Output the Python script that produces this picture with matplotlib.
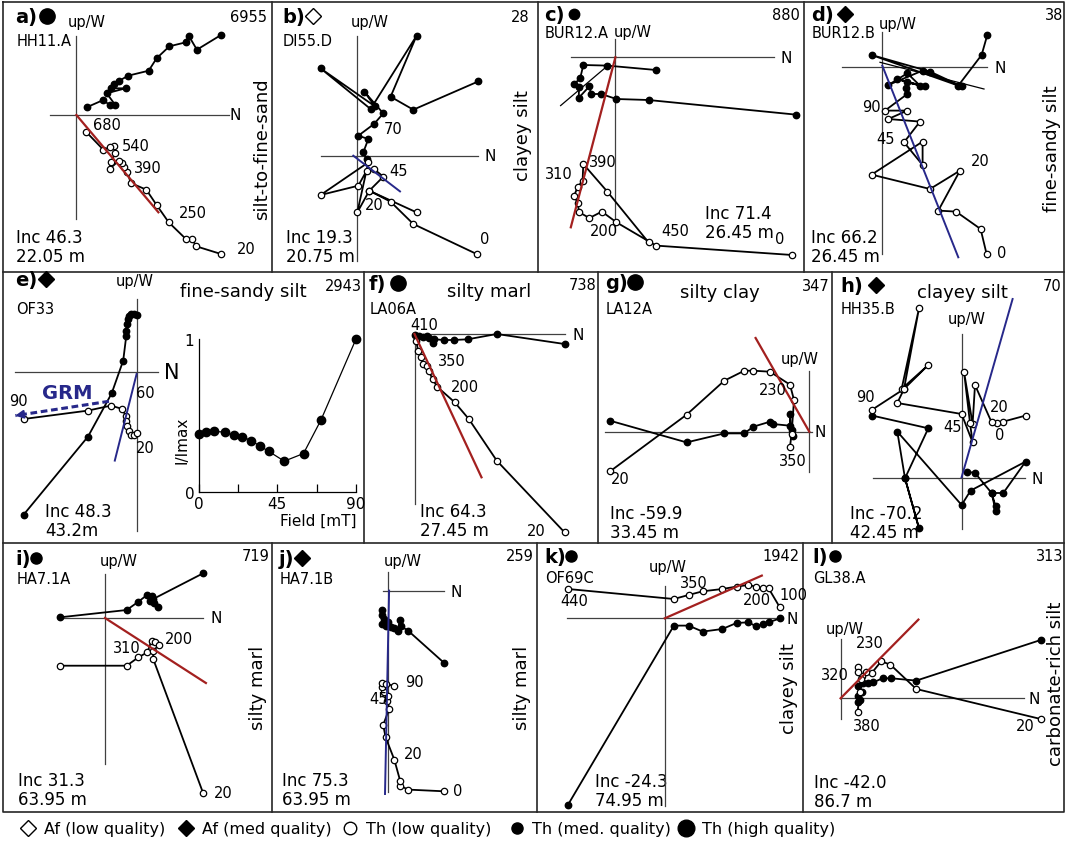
import numpy as np
import matplotlib.pyplot as plt

W, H = 1067, 845
RED = '#a3201f'
NAVY = '#27288a'

# =====================================================
# DATA  (N component, up/W component; filled = horizontal, open = vertical)
# =====================================================

# a) HH11.A
a_h_n = [144.6, 120.5, 112.3, 109.5, 93.0, 80.2, 72.3, 51.7, 43.0, 37.2, 34.4, 49.2, 30.3, 38.9, 33.1, 26.9, 10.3]
a_h_w = [80.0, 65.3, 79.3, 72.7, 68.7, 56.7, 44.3, 39.3, 34.3, 31.0, 26.7, 26.7, 21.7, 10.0, 10.0, 15.0, 7.7]
a_v_n = [144.6, 119.8, 115.7, 109.5, 92.3, 80.2, 69.9, 54.4, 51.0, 47.5, 45.8, 42.4, 33.1, 34.4, 38.9, 37.2, 33.1, 26.9, 9.6]
a_v_u = [-139.0, -131.3, -124.0, -124.0, -107.3, -90.0, -74.7, -68.0, -57.3, -52.3, -48.0, -45.7, -54.0, -47.3, -38.0, -30.7, -32.3, -34.7, -16.7]
a_fit = [[0, 82.0], [0, -97.3]]

# b) DI55.D
b_h_n = [121, 56, 33.3, 59.3, 13.3, -36.7, 17.7, 7, 26, 16.7, 1, 11, 6, 9.3]
b_h_w = [74.3, 46, 59, 120, 46.7, 87.3, 49.3, 64, 42.3, 31.7, 20, 16.7, 3.3, -3.3]
b_v_n = [119.3, 56, 33.3, 12, 0, 11, -36.7, 1, 9.3, 16.7, 26, 12, 59.3]
b_v_u = [-98.3, -68.3, -46, -35, -56.7, -6.7, -39.3, -30, -15, -13.3, -21, -35, -56.7]
b_fit = [[-4, 42.7], [0, -35.7]]

# c) BUR12.A
c_h_n = [40.6, -8.1, -32.1, -35.2, -41.2, -36.2, -36.8, -26, -24.3, -14.2, 1, 33.1, 180.2]
c_h_w = [-12.7, -8.3, -7.7, -21, -26.7, -30, -40.7, -29, -36.7, -36.7, -41.7, -42.7, -57.3]
c_v_n = [176.8, 40.6, 1, -13.5, -26, -36.2, -37.9, -41.2, -37.9, -32.8, -32.1, -8.1, 33.1]
c_v_u = [-197.7, -188.3, -165, -154.3, -160.7, -155, -145.7, -138.3, -130, -123.3, -106.7, -134.3, -185]
c_fit = [[0, -44.6], [0, -170]]
c_fit2 = [[-54.8, -5.7], [-48.3, -6.7]]

# d) BUR12.B
d_h_n = [105, 99.3, 76, -10.7, 47.7, 79.3, 40.3, 6, 25, 37.7, 14.3, 42.7, 24.3, 23.7, 25]
d_h_w = [32.3, 12.3, -18.3, 12.3, -4.3, -19, -3.3, -17.7, -6, -18.3, -11.7, -19, -15, -21, -26.7]
d_v_n = [104.3, 98.3, 73.7, 56, 77.7, 47.7, -10.7, 40.3, 40.3, 21.7, 37.7, 6, 25, 2.7]
d_v_u = [-186.7, -161.7, -144.3, -143.3, -103.3, -121.7, -107.3, -74.3, -97.7, -75, -54.3, -51.7, -43.3, -43.3]
d_fit = [[0, 76], [1.7, -190]]
d_fit2 = [[-2.3, 101.7], [5, -21.7]]

# e) OF33
e_h_n = [0.4, -2.7, -5.7, -7.7, -8.4, -9.6, -10.3, -10.3, -13.4, -24.9, -48.6, -112.9]
e_h_w = [57.7, 58.3, 58.3, 56.7, 53.3, 48.3, 41.7, 36.7, 11.7, -21, -64.3, -142.3]
e_v_n = [-112.9, -48.6, -25.6, -14.2, -11.1, -10.3, -9.6, -7.3, -5.4, -2.7, 0]
e_v_u = [-46.7, -38.3, -33.3, -36.7, -43.3, -48.3, -53.3, -58.3, -62.3, -62.7, -61]
e_fit = [[-21.8, 0], [-88.3, -1.7]]
e_grm = [[-27.6, -121.2], [-29, -43.3]]
e_field = [0, 4, 9, 15, 20, 25, 30, 35, 40, 49, 60, 70, 90]
e_int = [0.38, 0.39, 0.395, 0.39, 0.37, 0.36, 0.335, 0.3, 0.265, 0.2, 0.25, 0.47, 1.0]

# f) LA06A
f_h_n = [0.8, 4.6, 8.4, 12.2, 14.9, 18, 19.9, 29.5, 39, 53.2, 82.3, 150]
f_h_w = [-0.7, -1.7, -2.7, -2, -4, -9.3, -5.3, -6, -6, -5.3, 0, -10]
f_v_n = [1.9, 3.4, 6.5, 8.4, 12.2, 14.2, 18, 22.6, 40.2, 54.3, 82.3, 150]
f_v_u = [-6.7, -16.7, -23.3, -30, -31.7, -36.7, -45, -52.7, -68.3, -85, -126.7, -198.3]
f_fit = [[0, 67], [0, -143.3]]

# g) LA12A
g_h_n = [-199.3, -122.7, -85, -65, -56, -39.3, -36.7, -19.3, -19.3, -17.7, -16]
g_h_w = [11, -10.7, -1.7, -1.7, 5, 10, 7.7, 6, 17.7, 1.7, -4]
g_v_n = [-199.3, -122.7, -85, -65, -56, -39.3, -19.3, -15.3, -17.7, -19.3]
g_v_u = [-39.7, 17, 51, 61, 61, 60, 47, 31.7, -2, -15]
g_fit = [[-53.7, 0], [93.7, 0]]

# h) HH35.B
h_h_n = [-90, -34, -57.3, -43.3, -57.3, -65, -0.7, 8.3, 63.3, 41, 29.3, 33.3, 33.3, 29.3, 12.7, 4.3]
h_h_w = [62.7, 50, 0, -50, 0, 46.7, -26.7, -12.3, 16.7, -14.7, -14.7, -28, -32.3, -14.7, 5.3, 6.7]
h_v_n = [63.3, 41, 34.3, 29.3, 12.7, 10.3, 1.7, 7.7, 10.3, -0.7, -65, -58.3, -43.3, -60.7, -34, -58.3, -90]
h_v_u = [62.7, 56.7, 55, 56, 93.3, 54.3, 106.7, 55.3, 36, 64.3, 75.3, 89.3, 170, 89.3, 113.3, 89.3, 68.7]
h_fit = [[-0.7, 50.3], [1, 179.3]]

# i) HA7.1A
i_h_n = [-44.8, 21.7, 33.4, 42.4, 46.5, 44.8, 49.2, 53.4, 48.2, 98.1]
i_h_w = [0.7, 8, 16.3, 23.3, 21.7, 17.3, 15, 10.7, 19, 44.7]
i_v_n = [-44.8, 21.7, 33.4, 42.4, 46.5, 49.5, 54.1, 48.2, 48.2, 98.1]
i_v_u = [-47.7, -47.7, -39.3, -34.3, -22.7, -24.3, -27, -32.7, -41, -175]
i_fit = [[0, 100.9], [0, -65]]

# j) HA7.1B
j_h_n = [-6.2, -6.9, -4.5, -6.2, -2.8, 0, 2.4, 5.9, 9.3, 11.7, 12.7, 19.6, 55.8]
j_h_w = [-18.7, -23.7, -27.7, -32.7, -35, -31, -36, -37, -39.3, -28.7, -35, -39.3, -71.7]
j_v_n = [55.8, 19.6, 11.7, 11.7, 5.9, -2.8, -5.2, 0.7, -1, 0, -4.5, -6.2, -6.2, -2, 5.9]
j_v_u = [-200, -198.3, -194.3, -189.3, -168.3, -146, -133.7, -117.7, -109.3, -104.3, -101, -96, -91.7, -93, -94.3]
j_fit = [[0.7, -3.4], [0.7, -202.7]]

# k) OF69C
k_h_n = [-96.7, 9.1, 23.7, 37.9, 57.5, 71.7, 83.5, 91.3, 98, 103.8, 115.6]
k_h_w = [-186.3, -7.3, -7.3, -13.3, -10.7, -4.7, -4, -8, -5.7, -4, 0]
k_v_n = [-96.7, 9.1, 23.7, 37.9, 57.5, 71.7, 83.5, 91.3, 98, 103.8, 115]
k_v_u = [29.3, 19.3, 23.3, 27, 29.3, 31.7, 33.3, 31.7, 30, 30, 11]
k_fit = [[0, 97], [0, 42.7]]

# l) GL38.A
l_h_n = [200.1, 75.7, 50.7, 41.9, 32.8, 27.7, 22.6, 16.9, 21.6, 17.6, 19.3, 17.6]
l_h_w = [58.3, 17.7, 20, 20, 16, 15.3, 15.3, 12.7, 6.7, 2.7, -1.3, -4]
l_v_n = [200.1, 75.7, 49.7, 40.6, 31.1, 25, 20.9, 16.9, 17.6, 20.3, 19.3, 16.9]
l_v_u = [-20.7, 9.3, 33.7, 37, 25.3, 26.7, 22.7, 31, 26.7, 19.3, 6, -14]
l_fit = [[0, 77.8], [0, 78.7]]

# =====================================================
# FIGURE
# =====================================================

fig = plt.figure(figsize=(W / 100, H / 100), dpi=100)
base = fig.add_axes([0, 0, 1, 1], label='base')
base.set_xlim(0, W)
base.set_ylim(H, 0)
base.axis('off')

# panel frames
frame = dict(color='0.15', lw=1.2)
base.plot([3, 1064, 1064, 3, 3], [3, 3, 813, 813, 3], **frame)
for yy in [273, 544]:
    base.plot([3, 1064], [yy, yy], **frame)
for xx in [272, 538, 804]:
    base.plot([xx, xx], [3, 273], **frame)
for xx in [364, 598, 831.5]:
    base.plot([xx, xx], [273, 544], **frame)
for xx in [272, 537, 803]:
    base.plot([xx, xx], [544, 813], **frame)


def panel(name, ox, oy):
    ax = fig.add_axes([0, 0, 1, 1], label=name)
    ax.set_xlim(-ox, W - ox)
    ax.set_ylim(oy - H, oy)
    ax.axis('off')
    ax.patch.set_alpha(0)
    return ax


def cross(ax, hx, vy, nx, nsize=11):
    ax.plot(hx, [0, 0], color='0.25', lw=0.9, zorder=1)
    ax.plot([0, 0], vy, color='0.25', lw=0.9, zorder=1)
    ax.text(nx, 0, 'N', ha='center', va='center', fontsize=nsize)


def zij(ax, hn, hw, vn, vu, link=False):
    if link:
        ax.plot([hn[0], vn[-1]], [hw[0], vu[-1]], color='k', lw=1.3, zorder=2)
    ax.plot(hn, hw, color='k', lw=1.3, marker='o', ms=4.6,
            mfc='k', mec='k', zorder=3)
    ax.plot(vn, vu, color='k', lw=1.3, marker='o', ms=4.6,
            mfc='white', mec='k', mew=0.9, zorder=4)


def fit(ax, line, color, lw=1.6):
    ax.plot(line[0], line[1], color=color, lw=lw, zorder=5)


def steps(ax, labels):
    for x, y, s in labels:
        ax.text(x, y, s, ha='center', va='center', fontsize=10.5, zorder=6)


# --- a
ax = panel('a', 76.4, 116)
cross(ax, [-26.5, 152.6], [-104, 79.3], 158.6)
fit(ax, a_fit, RED)
zij(ax, a_h_n, a_h_w, a_v_n, a_v_u)
steps(ax, [(30.3, -9, '680'), (59.6, -30.7, '540'), (71.6, -52.3, '390'),
           (116.4, -97.3, '250'), (169.8, -134, '20')])

# --- b
ax = panel('b', 357.3, 156.7)
cross(ax, [-36.6, 121], [-105.3, 120], 132.7)
zij(ax, b_h_n, b_h_w, b_v_n, b_v_u)
fit(ax, b_fit, NAVY, 1.4)
steps(ax, [(36, 27.3, '70'), (41, -15, '45'), (16.7, -49, '20'), (127, -82.7, '0')])

# --- c
ax = panel('c', 615.4, 58.3)
cross(ax, [-44.6, 158.2], [-174.7, 18.3], 171.1)
ax.plot(c_fit2[0], c_fit2[1], color='k', lw=0.9, zorder=2)
zij(ax, c_h_n, c_h_w, c_v_n, c_v_u)
fit(ax, c_fit, RED)
steps(ax, [(-12.5, -104, '390'), (-56.5, -116.7, '310'), (-11.8, -173.3, '200'),
           (60.2, -173.3, '450'), (164.3, -181, '0')])

# --- d
ax = panel('d', 882.3, 68.3)
cross(ax, [-40.6, 104.4], [-186.7, 35.3], 117.7)
ax.plot(d_fit2[0], d_fit2[1], color='k', lw=0.9, zorder=2)
ax.plot([d_h_n[-1], d_v_n[-1]], [d_h_w[-1], d_v_u[-1]], color='k', lw=1.3, zorder=2)
zij(ax, d_h_n, d_h_w, d_v_n, d_v_u)
fit(ax, d_fit, NAVY, 1.4)
steps(ax, [(-10.7, -39, '90'), (3.7, -71.7, '45'), (98.3, -93.3, '20'), (119.3, -185, '0')])

# --- e
ax = panel('e', 136.6, 373.3)
cross(ax, [-121.3, 21.1], [-158.4, 73.3], 35.4, nsize=15)
zij(ax, e_h_n, e_h_w, e_v_n, e_v_u)
fit(ax, e_fit, NAVY, 1.4)
ax.plot(e_grm[0], e_grm[1], color=NAVY, lw=2.2, ls=(0, (2.2, 1.2)), zorder=6)
ax.annotate('', xy=(e_grm[0][1] - 3, e_grm[1][1] - 0.5),
            xytext=(e_grm[0][1] + 6, e_grm[1][1] + 0.9),
            arrowprops=dict(arrowstyle='-|>', color=NAVY, lw=1.5,
                            mutation_scale=12), zorder=6)
ax.text(-69.6, -20, 'GRM', color=NAVY, fontsize=14, fontweight='bold',
        ha='center', va='center')
steps(ax, [(-118.3, -28.3, '90'), (8.8, -20, '60'), (8.8, -75, '20')])

# inset AF demag curve
ins = fig.add_axes([198.5 / W, 1 - 492.7 / H, (356 - 198.5) / W, (492.7 - 340) / H],
                   label='inset')
ins.patch.set_alpha(0)
ins.plot(e_field, e_int, color='k', lw=0.9, marker='o', ms=6, mfc='k',
         clip_on=False, zorder=3)
ins.set_xlim(0, 90)
ins.set_ylim(0, 1)
for sp in ['top', 'right']:
    ins.spines[sp].set_visible(False)
for sp in ['left', 'bottom']:
    ins.spines[sp].set_linewidth(0.9)
ins.set_xticks([0, 22.5, 45, 67.5, 90])
ins.set_xticklabels(['0', '', '45', '', '90'])
ins.set_yticks([0, 1])
ins.set_yticklabels(['0', '1'])
ins.tick_params(direction='in', length=6, width=0.9, labelsize=11, pad=3)
ins.tick_params(axis='y', length=0)
base.text(181.8, 440, 'I/Imax', rotation=90, ha='center', va='center', fontsize=11)
base.text(356, 521.7, 'Field [mT]', ha='right', va='center', fontsize=11)

# --- f
ax = panel('f', 414.5, 335)
cross(ax, [0, 150], [-170, 2], 163.5)
zij(ax, f_h_n, f_h_w, f_v_n, f_v_u)
fit(ax, f_fit, RED)
steps(ax, [(9.5, 10, '410'), (37.1, -26.7, '350'), (50.5, -52.7, '200'),
           (121.3, -196.7, '20')])

# --- g
ax = panel('g', 809.3, 432.7)
cross(ax, [-204.3, 2.4], [-40.6, 61], 10.7)
zij(ax, g_h_n, g_h_w, g_v_n, g_v_u)
fit(ax, g_fit, RED)
steps(ax, [(-36.7, 41.7, '230'), (-16, -29, '350'), (-189.3, -47.3, '20')])

# --- h
ax = panel('h', 962.3, 479.3)
cross(ax, [-89, 62.7], [-50.7, 144.3], 74.4)
zij(ax, h_h_n, h_h_w, h_v_n, h_v_u, link=True)
fit(ax, h_fit, NAVY, 1.4)
steps(ax, [(-97.3, 82, '90'), (37, 72, '20'), (-10, 52, '45'), (37.7, 43.7, '0')])

# --- i
ax = panel('i', 105, 619)
cross(ax, [-44.7, 98.2], [-146, 44], 111)
zij(ax, i_h_n, i_h_w, i_v_n, i_v_u)
fit(ax, i_fit, RED)
steps(ax, [(22.3, -29.3, '310'), (73.7, -21, '200'), (118, -175, '20')])

# --- j
ax = panel('j', 388.4, 592.3)
cross(ax, [-5.4, 55.8], [-200.7, 19.3], 67.6)
zij(ax, j_h_n, j_h_w, j_v_n, j_v_u)
fit(ax, j_fit, NAVY, 1.4)
steps(ax, [(26.5, -90.3, '90'), (-9.6, -107.7, '45'), (24.8, -162.7, '20'),
           (69.6, -199.3, '0')])

# --- k
ax = panel('k', 664.8, 619.3)
cross(ax, [-97.4, 117.2], [-187.4, 32.6], 127.4)
zij(ax, k_h_n, k_h_w, k_v_n, k_v_u)
fit(ax, k_fit, RED)
steps(ax, [(-90.6, 17.7, '440'), (29.4, 36, '350'), (92, 18.7, '200'),
           (128.7, 23.3, '100')])

# --- l
ax = panel('l', 840.6, 699.3)
cross(ax, [0, 183.2], [-20.7, 59.3], 193.4)
zij(ax, l_h_n, l_h_w, l_v_n, l_v_u)
fit(ax, l_fit, RED)
steps(ax, [(29.4, 55.3, '230'), (-6.1, 23.3, '320'), (26, -27.3, '380'),
           (185, -27.3, '20')])

# =====================================================
# HEADERS / TEXT
# =====================================================

# (tag, x, y, symbol, filled, sym size, sym x, sample, sample y, number, number right x, number y)
headers = [
    ('a)', 15.5, 18, 'o', True, 11, 46.5, 'HH11.A', 42, '6955', 267, 18),
    ('b)', 282, 18, 'D', False, 8, 313, 'DI55.D', 42, '28', 530, 18),
    ('c)', 544, 16, 'o', True, 7.5, 573.5, 'BUR12.A', 34, '880', 800, 15),
    ('d)', 811, 16, 'D', True, 8, 845, 'BUR12.B', 34, '38', 1063, 15),
    ('e)', 15, 281, 'D', True, 8, 46, 'OF33', 310, '2943', 362, 287),
    ('f)', 369, 285, 'o', True, 11, 398, 'LA06A', 310, '738', 596, 286),
    ('g)', 605, 284, 'o', True, 11, 635, 'LA12A', 310, '347', 830, 287),
    ('h)', 840, 287, 'D', True, 8, 876, 'HH35.B', 310, '70', 1061, 287),
    ('i)', 15.5, 560, 'o', True, 8, 36, 'HA7.1A', 580, '719', 270, 557),
    ('j)', 279, 560, 'D', True, 8, 302, 'HA7.1B', 580, '259', 534, 557),
    ('k)', 544, 558, 'o', True, 8, 571, 'OF69C', 579, '1942', 800, 557),
    ('l)', 812.5, 558, 'o', True, 8, 834.5, 'GL38.A', 579, '313', 1063, 557),
]
for tag, x, y, mk, filled, msz, sx, sample, sy, num, nx, ny in headers:
    base.text(x, y, tag, fontsize=14, fontweight='bold', ha='left', va='center')
    base.plot([sx], [y - 1], marker=mk, ms=msz, mfc='k' if filled else 'white',
              mec='k', mew=1.0)
    base.text(x + 1, sy, sample, fontsize=10.5, ha='left', va='center')
    base.text(nx, ny, num, fontsize=10.5, ha='right', va='center')

# up/W labels (centre x, y)
for x, y in [(87, 23), (370, 23), (633, 32), (898, 25), (135, 282), (800, 360),
             (966.7, 320), (119, 562), (403, 562), (668, 568), (845, 630)]:
    base.text(x, y, 'up/W', fontsize=10.5, ha='center', va='center')

# lithology titles
for x, y, s in [(243, 292, 'fine-sandy silt'), (489, 292, 'silty marl'),
                (720, 293, 'silty clay'), (962, 293, 'clayey silt')]:
    base.text(x, y, s, fontsize=13, ha='center', va='center')
for x, y, s in [(262, 149, 'silt-to-fine-sand'), (523, 136, 'clayey silt'),
                (1052, 149, 'fine-sandy silt'), (258, 688, 'silty marl'),
                (521.7, 688, 'silty marl'), (789, 689, 'clayey silt'),
                (1056, 684, 'carbonate-rich silt')]:
    base.text(x, y, s, fontsize=13, rotation=90, ha='center', va='center')

# inclination / depth
for x, y, inc, dep in [(16.5, 238, 'Inc 46.3', '22.05 m'), (286, 238, 'Inc 19.3', '20.75 m'),
                       (705, 214, 'Inc 71.4', '26.45 m'), (811, 238, 'Inc 66.2', '26.45 m'),
                       (45, 512, 'Inc 48.3', '43.2m'), (420, 512, 'Inc 64.3', '27.45 m'),
                       (610, 514, 'Inc -59.9', '33.45 m'), (850, 514, 'Inc -70.2', '42.45 m'),
                       (18, 781, 'Inc 31.3', '63.95 m'), (282, 781, 'Inc 75.3', '63.95 m'),
                       (595, 782, 'Inc -24.3', '74.95 m'), (813.5, 783, 'Inc -42.0', '86.7 m')]:
    base.text(x, y, inc, fontsize=12, ha='left', va='center')
    base.text(x, y + 19, dep, fontsize=12, ha='left', va='center')

# =====================================================
# LEGEND
# =====================================================

legend_items = [
    (27.5, 'D', 'white', 8, 'Af (low quality)'),
    (186, 'D', 'k', 8, 'Af (med quality)'),
    (349.5, 'o', 'white', 9, 'Th (low quality)'),
    (516.5, 'o', 'k', 8, 'Th (med. quality)'),
    (685.7, 'o', 'k', 12, 'Th (high quality)'),
]
for x, mk, fc, msz, label in legend_items:
    base.plot([x], [829], marker=mk, ms=msz, mfc=fc, mec='k', mew=1.0)
    base.text(x + 16, 830, label, fontsize=11.5, ha='left', va='center')

fig.savefig('out.png', dpi=100)
plt.close(fig)
